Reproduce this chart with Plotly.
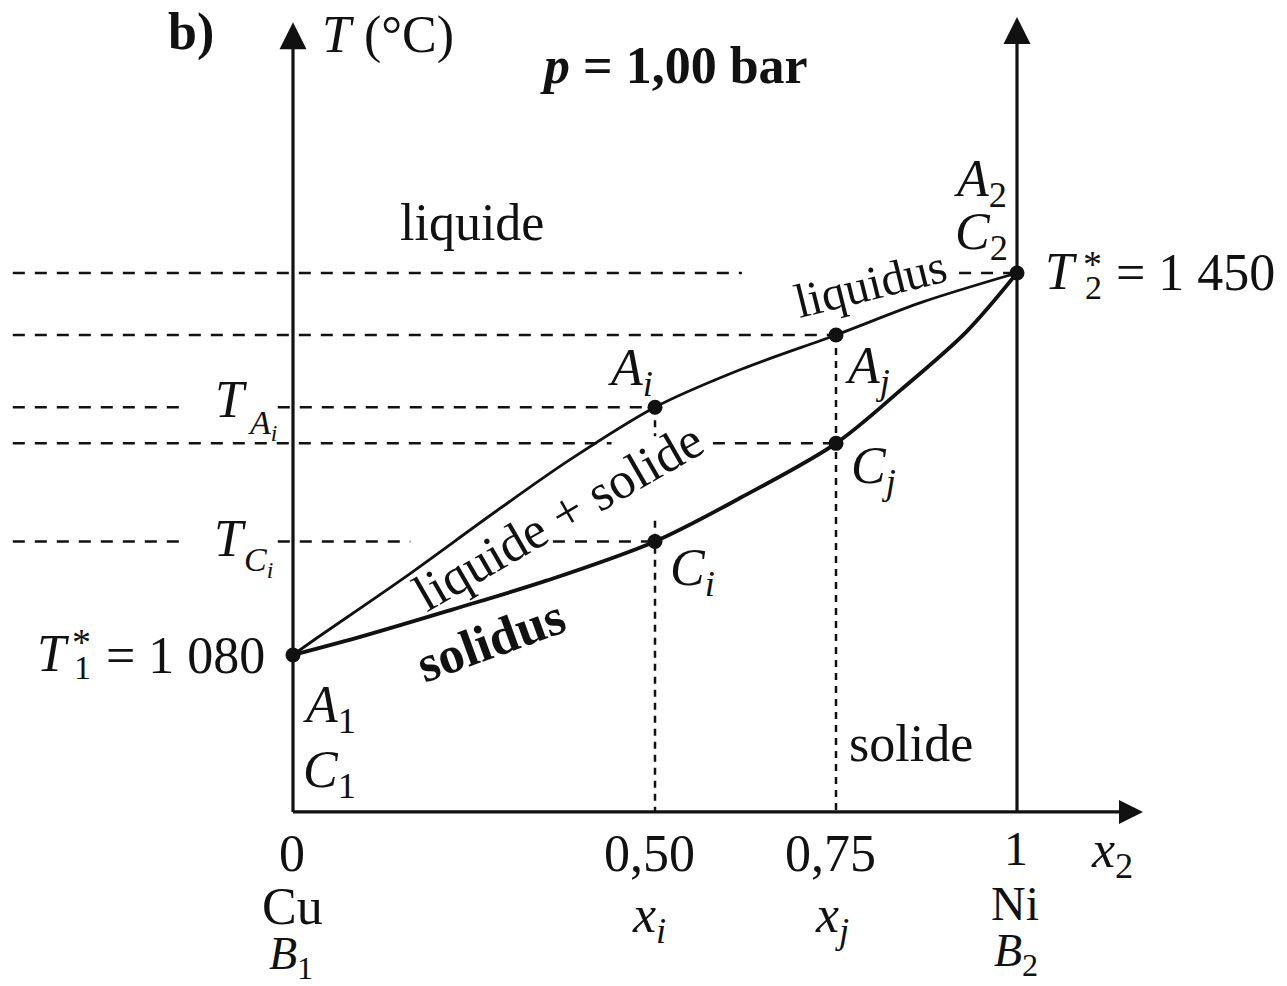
import plotly.graph_objects as go

W, H = 1287, 986

# Cu–Ni binary diagram at p = 1,00 bar
T1_STAR = 1080   # melting point of Cu (°C)
T2_STAR = 1450   # melting point of Ni (°C)

# liquidus and solidus: mole fraction of Ni (x2) vs temperature (°C)
liq_x = [0, 0.03, 0.15, 0.28, 0.38, 0.5, 0.62, 0.75, 0.87, 1]
liq_T = [1080, 1095, 1153, 1219, 1268, 1320, 1357, 1390, 1422, 1450]
sol_x = [0, 0.1, 0.22, 0.35, 0.5, 0.62, 0.75, 0.84, 0.93, 1]
sol_T = [1080, 1099, 1124, 1152, 1190, 1233, 1285, 1337, 1393, 1450]

# two compositions and the points where they meet each curve
x_tie = [0.5, 0.75]
T_A = [1320, 1390]   # A_i, A_j on the liquidus
T_C = [1190, 1285]   # C_i, C_j on the solidus

# ---- frame geometry -------------------------------------------------------
X0_PX, X_SCALE = 293, 724        # pixel of x2 = 0, pixels per unit of x2
T0_PX, T_SCALE = 655, 1.0324     # pixel of T1*, pixels per °C
x_range = [-X0_PX / X_SCALE, (W - X0_PX) / X_SCALE]
y_range = [T1_STAR - (H - T0_PX) / T_SCALE, T1_STAR + T0_PX / T_SCALE]

T_AXIS = 928          # temperature level of the x2 axis
T_TOP_L = 1693        # tip of the T axis arrow
T_TOP_R = 1698        # tip of the arrow at x2 = 1
X_ARROW = 1.174       # tip of the x2 axis arrow
X_LEFT = -0.387       # left end of the guide lines

FONT = "Liberation Serif"
INK = "#111111"
FS = 52

fig = go.Figure()


def line(xs, ys, width, dash="solid", shape="linear"):
    fig.add_trace(go.Scatter(x=xs, y=ys, mode="lines", hoverinfo="skip",
                             line=dict(color=INK, width=width, dash=dash, shape=shape,
                                       smoothing=0.9 if shape == "spline" else None)))


# horizontal guide lines, interrupted where labels sit on them
H_DASH = "12px,10px"
guides = [
    (T2_STAR, [(X_LEFT, 0.62), (0.92, 1)]),
    (T_A[1], [(X_LEFT, x_tie[1])]),
    (T_A[0], [(X_LEFT, -0.148), (-0.021, x_tie[0])]),
    (T_C[1], [(X_LEFT, 0.44), (0.58, x_tie[1])]),
    (T_C[0], [(X_LEFT, -0.148), (-0.021, 0.162), (0.359, x_tie[0])]),
]
for T, segs in guides:
    for a, b in segs:
        line([a, b], [T, T], 2.5, H_DASH)

# vertical guide lines down to the composition axis
V_DASH = "7px,6px"
line([x_tie[0], x_tie[0]], [T_A[0], 1292], 2.5, V_DASH)
line([x_tie[0], x_tie[0]], [1210, T_AXIS], 2.5, V_DASH)
line([x_tie[1], x_tie[1]], [T_A[1], T_AXIS], 2.5, V_DASH)

# axes
line([0, 0], [T_AXIS, T_TOP_L - 10], 3.2)
line([1, 1], [T_AXIS, T_TOP_R - 10], 3.2)
line([0, X_ARROW - 0.02], [T_AXIS, T_AXIS], 3.2)
fig.add_trace(go.Scatter(x=[0, 1], y=[T_TOP_L, T_TOP_R], mode="markers", hoverinfo="skip",
                         marker=dict(symbol="arrow-up", size=27, color=INK, line=dict(width=0))))
fig.add_trace(go.Scatter(x=[X_ARROW], y=[T_AXIS], mode="markers", hoverinfo="skip",
                         marker=dict(symbol="arrow-right", size=24, color=INK, line=dict(width=0))))

# liquidus and solidus
line(liq_x, liq_T, 2.8, shape="spline")
line(sol_x, sol_T, 3.8, shape="spline")

# marked points
pts_x = [0, 1] + x_tie + x_tie
pts_T = [T1_STAR, T2_STAR] + T_A + T_C
fig.add_trace(go.Scatter(x=pts_x, y=pts_T, mode="markers", hoverinfo="skip",
                         marker=dict(size=15, color=INK)))

# ---- text -----------------------------------------------------------------
annotations = []


def text(s, x, y, xref="paper", yref="paper", dx=0, dy=0, size=FS, angle=0):
    if xref == "paper":
        x = x / W
    if yref == "paper":
        y = 1 - y / H
    annotations.append(dict(text=s, x=x, y=y, xref=xref, yref=yref, xshift=dx, yshift=dy,
                            showarrow=False, textangle=angle, borderpad=0,
                            xanchor="center", yanchor="middle",
                            font=dict(family=FONT, size=size, color=INK)))


SUB = 34

# free labels
text("<b>b)</b>", 191, 32)
text("<i>T</i> (°C)", 0, 35, xref="x", dx=95)
text("<b><i>p</i> = 1,00 bar</b>", 674, 65)
text("liquide", 472, 222)
text("solide", 911, 743)
text("liquidus", 870, 283, size=48, angle=-14)
text("liquide + solide", 558, 516, angle=-30)
text("<b>solidus</b>", 490, 640, angle=-20)

# points on the curves
text("<i>A<sub>i</sub></i>", x_tie[0], T_A[0], "x", "y", dx=-25, dy=36)
text("<i>A<sub>j</sub></i>", x_tie[1], T_A[1], "x", "y", dx=31, dy=-35)
text("<i>C<sub>i</sub></i>", x_tie[0], T_C[0], "x", "y", dx=37, dy=-30)
text("<i>C<sub>j</sub></i>", x_tie[1], T_C[1], "x", "y", dx=37, dy=-26)

# pure Ni end
text("<i>A</i><sub>2</sub>", 1, T2_STAR, "x", "y", dx=-37, dy=91)
text("<i>C</i><sub>2</sub>", 1, T2_STAR, "x", "y", dx=-36, dy=38)
text("<i>T</i>", 1, T2_STAR, "x", "y", dx=44, dy=2)
text("*", 1, T2_STAR, "x", "y", dx=75, dy=9, size=SUB + 4)
text("2", 1, T2_STAR, "x", "y", dx=76, dy=-14, size=SUB)
text("= 1 450", 1, T2_STAR, "x", "y", dx=178, dy=1)

# pure Cu end
text("<i>A</i><sub>1</sub>", 0, T1_STAR, "x", "y", dx=36, dy=-53)
text("<i>C</i><sub>1</sub>", 0, T1_STAR, "x", "y", dx=36, dy=-118)
text("<i>T</i>", 0, T1_STAR, "x", "y", dx=-240, dy=2)
text("*", 0, T1_STAR, "x", "y", dx=-212, dy=13, size=SUB + 4)
text("1", 0, T1_STAR, "x", "y", dx=-211, dy=-12, size=SUB)
text("= 1 080", 0, T1_STAR, "x", "y", dx=-108, dy=0)

# temperatures of A_i and C_i on the T axis
text("<i>T</i>", 0, T_A[0], "x", "y", dx=-62, dy=8)
text("<i>A<sub>i</sub></i>", 0, T_A[0], "x", "y", dx=-31, dy=-18, size=SUB)
text("<i>T</i>", 0, T_C[0], "x", "y", dx=-63, dy=3)
text("<i>C<sub>i</sub></i>", 0, T_C[0], "x", "y", dx=-35, dy=-21, size=SUB)

# composition axis
text("0", 0, 853, xref="x", dx=-1)
text("0,50", x_tie[0], 853, xref="x", dx=-6)
text("0,75", x_tie[1], 853, xref="x", dx=-6)
text("1", 1, 848, xref="x", dx=-1, size=48)
text("<i>x</i><sub>2</sub>", 1, 853, xref="x", dx=95)
text("Cu", 0, 906, xref="x", dx=-1)
text("<i>x<sub>i</sub></i>", x_tie[0], 918, xref="x", dx=-6)
text("<i>x<sub>j</sub></i>", x_tie[1], 918, xref="x", dx=-4)
text("Ni", 1, 903, xref="x", dx=-2, size=48)
text("<i>B</i><sub>1</sub>", 0, 957, xref="x", dx=-2, size=46)
text("<i>B</i><sub>2</sub>", 1, 954, xref="x", dx=-1, size=46)

fig.update_layout(
    width=W, height=H,
    margin=dict(l=0, r=0, t=0, b=0),
    paper_bgcolor="white", plot_bgcolor="white",
    showlegend=False,
    xaxis=dict(range=x_range, visible=False, fixedrange=True),
    yaxis=dict(range=y_range, visible=False, fixedrange=True),
    annotations=annotations,
)

fig.write_html("out.html", config={"displayModeBar": False})
